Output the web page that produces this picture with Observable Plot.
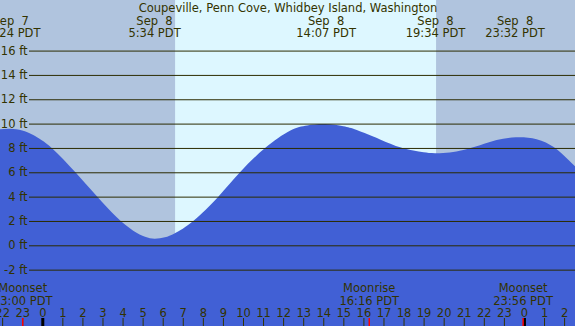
<!DOCTYPE html>
<html>
<head>
<meta charset="utf-8">
<script src="https://cdn.jsdelivr.net/npm/d3@7"></script>
<script src="https://cdn.jsdelivr.net/npm/@observablehq/plot@0.6"></script>
<style>
  html, body { margin: 0; padding: 0; background: #fff; }
  svg text { white-space: pre; }
</style>
</head>
<body>
<div id="chart"></div>
<script>
const title = "Coupeville, Penn Cove, Whidbey Island, Washington";

// Tide curve (hours relative to midnight Sep 8, feet)
const tideHour = [-2.12, -1.6, -1.0, -0.45, 0.47, 1.65, 2.71, 3.71, 4.53, 5.12, 5.6, 6.11, 6.61, 7.52, 8.77, 9.85, 11.10, 12.34, 13.2, 14.1, 15.0, 15.67, 16.83, 17.83, 18.49, 19.0, 19.57, 20.3, 20.98, 21.81, 22.64, 23.6, 24.63, 25.46, 25.96, 26.56];
const tideFt   = [9.53, 9.58, 9.44, 9.06, 8.0, 6.0, 4.05, 2.3, 1.2, 0.7, 0.54, 0.66, 1.0, 2.0, 4.0, 6.0, 8.0, 9.42, 9.85, 9.96, 9.78, 9.47, 8.7, 8.05, 7.78, 7.64, 7.56, 7.62, 7.83, 8.22, 8.65, 8.87, 8.71, 8.1, 7.42, 6.46];

// High / low tide events
const eventHour = [-1.6, 5.567, 14.117, 19.567, 23.533];
const eventDate = ["Sep  7", "Sep  8", "Sep  8", "Sep  8", "Sep  8"];
const eventTime = ["22:24 PDT", "5:34 PDT", "14:07 PDT", "19:34 PDT", "23:32 PDT"];

// Sun
const sunrise = 6.617, sunset = 19.62;

// Moon events
const moonHour = [-1.0, 16.267, 23.933];
const moonName = ["Moonset", "Moonrise", "Moonset"];
const moonTime = ["23:00 PDT", "16:16 PDT", "23:56 PDT"];

// Axes
const yTicks = [16, 14, 12, 10, 8, 6, 4, 2, 0, -2];
const hourTicks = [-2, -1, 0, 1, 2, 3, 4, 5, 6, 7, 8, 9, 10, 11, 12, 13, 14, 15, 16, 17, 18, 19, 20, 21, 22, 23, 24, 25, 26];
const hourLabels = ["22", "23", "0", "1", "2", "3", "4", "5", "6", "7", "8", "9", "10", "11", "12", "13", "14", "15", "16", "17", "18", "19", "20", "21", "22", "23", "0", "1", "2"];
const midnights = [0, 24];

const tide = tideHour.map((h, i) => ({h, ft: tideFt[i]}));
const events = eventHour.map((h, i) => ({h, date: eventDate[i], time: eventTime[i]}));
const moons = moonHour.map((h, i) => ({h, name: moonName[i], time: moonTime[i]}));
const hours = hourTicks.map((h, i) => ({h, label: hourLabels[i]}));

const yMin = -6.63, yMax = 20.156;
const ink = "#333300";
const fs = "11.5px";
const la = "middle";

const chart = Plot.plot({
  width: 575,
  height: 326,
  margin: 0,
  x: {domain: [-2.107, 26.543], axis: null},
  y: {domain: [yMin, yMax], axis: null},
  style: {background: "#b0c4de", fontFamily: "'DejaVu Sans', sans-serif", fontSize: fs, color: ink},
  marks: [
    Plot.rect([{a: sunrise, b: sunset}], {x1: "a", x2: "b", fill: "#ddf7ff"}),
    Plot.area(tide, {x1: "h", y1: () => yMin, y2: "ft", fill: "#4160d5", curve: "natural"}),
    Plot.ruleY(yTicks, {y: d => d, insetLeft: 29, stroke: "#2b2b00", strokeWidth: 1}),
    Plot.text(yTicks, {y: d => d, text: d => `${d} ft`, frameAnchor: "left", lineAnchor: la, textAnchor: "end", dx: 27, fill: ink, fontSize: fs}),
    Plot.text([title], {text: d => d, frameAnchor: "top", lineAnchor: la, dy: 7.35, fill: ink, fontSize: fs}),
    Plot.text(events, {x: "h", text: "date", frameAnchor: "top", lineAnchor: la, dy: 20.35, fill: ink, fontSize: fs}),
    Plot.text(events, {x: "h", text: "time", frameAnchor: "top", lineAnchor: la, dy: 32.35, fill: ink, fontSize: fs}),
    Plot.ruleX(hours, {x: "h", insetTop: 318, stroke: ink, strokeWidth: 1}),
    Plot.ruleX(midnights, {x: d => d, insetTop: 318, stroke: "#000", strokeWidth: 3}),
    Plot.ruleX(moons, {x: "h", insetTop: 318, stroke: "red", strokeWidth: 1.5}),
    Plot.text(hours, {x: "h", text: "label", frameAnchor: "bottom", lineAnchor: la, dy: -13.65, fill: ink, fontSize: fs}),
    Plot.text(moons, {x: "h", text: "name", frameAnchor: "bottom", lineAnchor: la, dy: -38, fill: ink, fontSize: fs}),
    Plot.text(moons, {x: "h", text: "time", frameAnchor: "bottom", lineAnchor: la, dy: -25.65, fill: ink, fontSize: fs})
  ]
});
document.getElementById("chart").appendChild(chart);
</script>
</body>
</html>
